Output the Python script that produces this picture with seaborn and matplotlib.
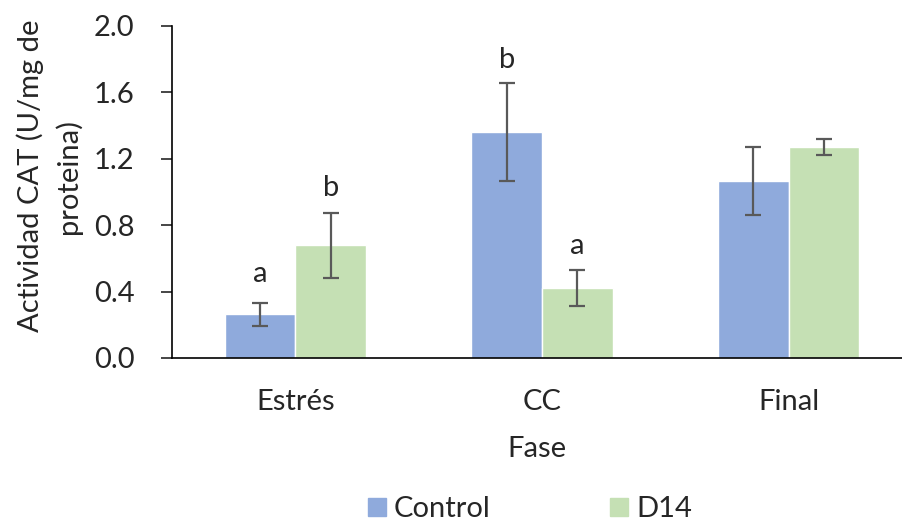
import pandas as pd
import matplotlib
matplotlib.use('Agg')
import matplotlib.pyplot as plt
import seaborn as sns

# Datos
fases = ['Estrés', 'CC', 'Final']
control = [0.263, 1.36, 1.066]
control_err = [0.07, 0.295, 0.203]
d14 = [0.678, 0.42, 1.271]
d14_err = [0.195, 0.108, 0.046]
letras_control = ['a', 'b', '']
letras_d14 = ['b', 'a', '']
y_letras_control = [0.46, 1.75, 0]
y_letras_d14 = [0.975, 0.625, 0]

df = pd.DataFrame({
    'Fase': fases * 2,
    'Grupo': ['Control'] * 3 + ['D14'] * 3,
    'valor': control + d14,
})

sns.set_style('white')
plt.rcParams['font.family'] = ['Lato', 'DejaVu Sans']
fs = 21

fig = plt.figure(figsize=(9.02, 5.25), dpi=100)
ax = fig.add_axes([172 / 902, 1 - 358 / 525, 1 - 172 / 902, (358 - 26) / 525])

sns.barplot(data=df, x='Fase', y='valor', hue='Grupo', order=fases,
            palette=['#8faadc', '#c5e0b4'], saturation=1, width=0.572, gap=0,
            errorbar=None, ax=ax, legend=False)

# Barras de error y letras
errs = control_err + d14_err
letras = letras_control + letras_d14
y_letras = y_letras_control + y_letras_d14
for p, e, l, yl in zip(ax.patches, errs, letras, y_letras):
    xc = p.get_x() + p.get_width() / 2
    ax.errorbar(xc, p.get_height(), yerr=e, color='#595959', capsize=6,
                elinewidth=1.6, capthick=1.6)
    if l:
        ax.text(xc, yl, l, ha='center', va='baseline', fontsize=fs)

ax.set_ylim(0, 2.0)
ax.set_yticks([0, 0.4, 0.8, 1.2, 1.6, 2.0])
ax.set_yticklabels(['0.0', '0.4', '0.8', '1.2', '1.6', '2.0'])
ax.set_xlim(-0.5, -0.5 + (902 - 172) / 246.7)
for s in ['top', 'right']:
    ax.spines[s].set_visible(False)
for s in ['left', 'bottom']:
    ax.spines[s].set_color('black')
    ax.spines[s].set_linewidth(1.2)
ax.tick_params(axis='y', left=True, length=8, width=1.2, pad=19, labelsize=fs)
ax.tick_params(axis='x', bottom=False, pad=19, labelsize=fs)
ax.set_ylabel('')
ax.set_xlabel('Fase', fontsize=fs, labelpad=15)

fig.text(49 / 902, 1 - 176 / 525, 'Actividad CAT (U/mg de\nproteina)',
         rotation=90, ha='center', va='center', multialignment='center',
         fontsize=fs, linespacing=1.45)

handles = [plt.Rectangle((0, 0), 1, 1, color=c) for c in ['#8faadc', '#c5e0b4']]
fig.legend(handles, ['Control', 'D14'], loc='center', ncol=2,
           bbox_to_anchor=(530 / 902, 0.03), frameon=False, fontsize=fs,
           handlelength=0.6, handleheight=0.6, handletextpad=0.28,
           columnspacing=4.1)

plt.savefig('out.png', dpi=100)
